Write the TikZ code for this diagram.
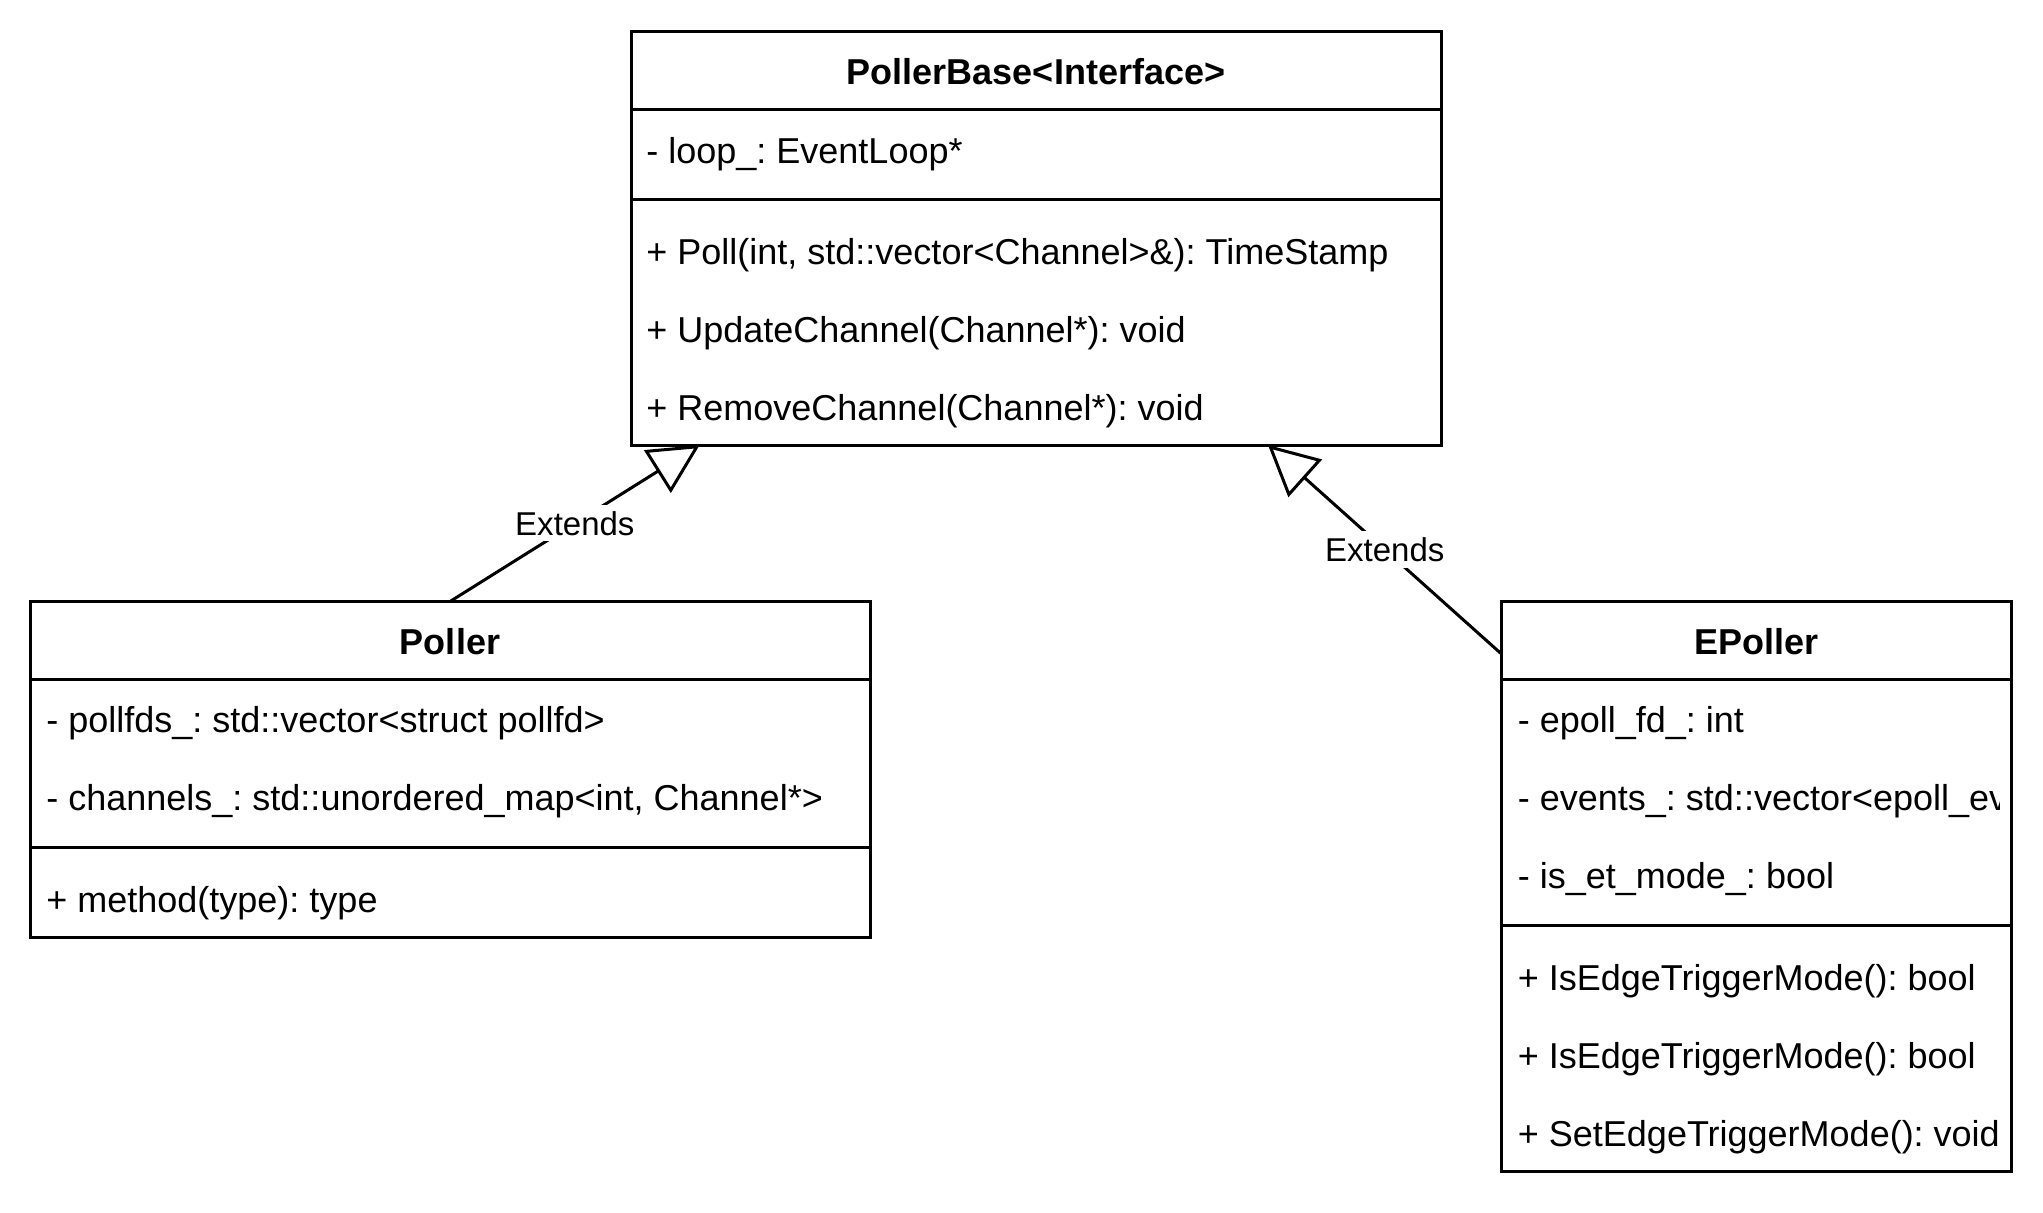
\documentclass[tikz,border=0pt]{standalone}
\usepackage{fontspec}
\setmainfont{Liberation Sans}
\usetikzlibrary{arrows.meta,calc}
\frenchspacing
\begin{document}
\frenchspacing
\begin{tikzpicture}[x=0.5pt,y=-0.5pt,
  box/.style={draw, line width=1.5pt, anchor=north west, inner sep=0pt, outer sep=0pt},
  member/.style={anchor=base west, inner sep=0pt, font=\fontsize{18pt}{21pt}\selectfont},
  ttl/.style={anchor=base, inner sep=0pt, font=\fontsize{18pt}{21pt}\selectfont\bfseries},
  sep/.style={line width=1.5pt},
  ext/.style={line width=1.5pt, -{Triangle[length=25pt,width=25pt,fill=white,line width=1.5pt]}},
  lbl/.style={fill=white, inner xsep=1pt, inner ysep=3pt, font=\fontsize{16.5pt}{19pt}\selectfont}
]
\useasboundingbox (0,0) rectangle (2043,1212);

% PollerBase
\node[box, minimum width=405pt, minimum height=206.75pt] (pb) at (631,31.5) {};
\draw[sep] (631,109.5) -- (1441,109.5);
\draw[sep] (631,199.5) -- (1441,199.5);
\node[ttl] (pbt) at (1036,84) {PollerBase<Interface>};
\node[member] (pba1) at (646,163) {- loop\_: EventLoop*};
\node[member] (pbm1) at (646,264) {+ Poll(int, std::vector<Channel>\&): TimeStamp};
\node[member] (pbm2) at (646,342) {+ UpdateChannel(Channel*): void};
\node[member] (pbm3) at (646,420) {+ RemoveChannel(Channel*): void};

% Poller
\node[box, minimum width=420pt, minimum height=168pt] (pl) at (30,601.5) {};
\draw[sep] (30,679.5) -- (870,679.5);
\draw[sep] (30,847.5) -- (870,847.5);
\node[ttl] (plt) at (450,654) {Poller};
\node[member] (pla1) at (46,732) {- pollfds\_: std::vector<struct pollfd>};
\node[member] (pla2) at (46,810) {- channels\_: std::unordered\_map<int, Channel*>};
\node[member] (plm1) at (46,912) {+ method(type): type};

% EPoller
\node[box, minimum width=255pt, minimum height=285pt] (ep) at (1501.5,601.5) {};
\draw[sep] (1501.5,679.5) -- (2011.5,679.5);
\draw[sep] (1501.5,925.5) -- (2011.5,925.5);
\node[ttl] (ept) at (1756.5,654) {EPoller};
\begin{scope}
\clip (1501.5,679.5) rectangle (1999.5,1171.5);
\node[member] (epa1) at (1517.5,732) {- epoll\_fd\_: int};
\node[member] (epa2) at (1517.5,810) {- events\_: std::vector<epoll\_event>};
\node[member] (epa3) at (1517.5,888) {- is\_et\_mode\_: bool};
\node[member] (epm1) at (1517.5,990) {+ IsEdgeTriggerMode(): bool};
\node[member] (epm2) at (1517.5,1068) {+ IsEdgeTriggerMode(): bool};
\node[member] (epm3) at (1517.5,1146) {+ SetEdgeTriggerMode(): void};
\end{scope}

% connectors
\coordinate (tl) at ($(pb.south west)+(68.7,0)$);
\coordinate (tr) at ($(pb.south west)+(637,0)$);
\coordinate (rs) at ($(ep.north west)+(0,52.5)$);
\draw[ext] (pl.north) -- node[lbl] (l1) {Extends} (tl);
\draw[ext] (rs) -- node[lbl] (l2) {Extends} (tr);
\end{tikzpicture}
\end{document}
